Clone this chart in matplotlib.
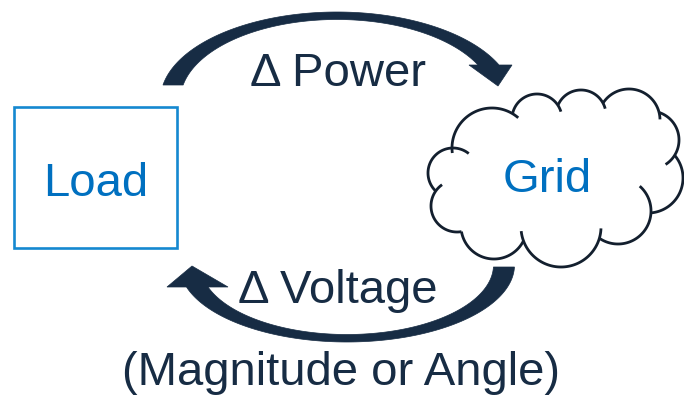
import numpy as np
import matplotlib.pyplot as plt
from matplotlib.patches import Polygon, Rectangle

# canvas is in pixel units (684 x 408), y pointing down
W, H = 684, 408

navy = '#172C44'
blue = '#0070C0'
box_edge = '#1588D0'

# labels: text, x, baseline y, colour
labels = ['\u0394 Power', 'Load', 'Grid', '\u0394 Voltage', '(Magnitude or Angle)']
label_x = [338, 96, 547, 338, 341]
label_y = [86, 196, 192, 303, 385]
label_col = [navy, blue, blue, navy, navy]

# Load box (left, top, right, bottom)
box = [14, 107, 177, 248]

# cloud bumps (centre x, centre y, radius), clockwise from top-left
bump_x = [492, 537, 581, 629, 650, 648, 618, 561, 494, 457, 453]
bump_y = [148, 119, 115, 120, 140, 178, 211, 227, 226, 206, 173]
bump_r = [40, 25, 25, 31, 29, 35, 33, 40, 33, 26, 25]
hook_start = [5, 0, 0, 0, 0, 0, 30, 10, 0, 0, 0]
hook_end = [7, 7, 6, 7, 13, 0, 0, 10, 0, 9, 18]
cloud_c = (555, 178)

# curved arrows: ellipse centre, outer (a, b), inner (a, b), tail y, head base y, head triangle
top_arrow = dict(c=(337, 100), outer=(176.6, 88), inner=(156.6, 80.5), tail=85, base=65,
                 head=[(512, 65), (498, 86), (469, 65)])
bot_arrow = dict(c=(347, 265), outer=(167.5, 77), inner=(146.5, 69.5), tail=267, base=287,
                 head=[(167, 287), (192, 266), (228, 287)])


def arrow_poly(p, up=True):
    cx, cy = p['c']
    ao, bo = p['outer']
    ai, bi = p['inner']
    s = -1 if up else 1
    if up:
        to = np.linspace(np.pi - np.arcsin(abs(cy - p['tail']) / bo), np.arcsin(abs(cy - p['base']) / bo), 200)
        ti = np.linspace(np.arcsin(abs(cy - p['base']) / bi), np.pi - np.arcsin(abs(cy - p['tail']) / bi), 200)
    else:
        to = np.linspace(np.arcsin(abs(p['tail'] - cy) / bo), np.pi - np.arcsin(abs(p['base'] - cy) / bo), 200)
        ti = np.linspace(np.pi - np.arcsin(abs(p['base'] - cy) / bi), np.arcsin(abs(p['tail'] - cy) / bi), 200)
    outer = np.column_stack([cx + ao * np.cos(to), cy + s * bo * np.sin(to)])
    inner = np.column_stack([cx + ai * np.cos(ti), cy + s * bi * np.sin(ti)])
    return np.vstack([outer, np.array(p['head']), inner])


def outer_cross(c1, r1, c2, r2):
    c1, c2 = np.array(c1, float), np.array(c2, float)
    d = np.linalg.norm(c2 - c1)
    a = (r1**2 - r2**2 + d**2) / (2 * d)
    h = np.sqrt(max(r1**2 - a**2, 0))
    u = (c2 - c1) / d
    p = c1 + a * u
    perp = np.array([-u[1], u[0]])
    pts = [p + h * perp, p - h * perp]
    dist = [np.linalg.norm(q - np.array(cloud_c)) for q in pts]
    return pts[int(np.argmax(dist))]


fig = plt.figure(figsize=(W / 100, H / 100), dpi=100)
ax = fig.add_axes([0, 0, 1, 1])
ax.set_xlim(0, W)
ax.set_ylim(H, 0)
ax.axis('off')

# arrows
ax.add_patch(Polygon(arrow_poly(top_arrow, up=True), closed=True, fc=navy, ec=navy, lw=0.5))
ax.add_patch(Polygon(arrow_poly(bot_arrow, up=False), closed=True, fc=navy, ec=navy, lw=0.5))

# load box
ax.add_patch(Rectangle((box[0], box[1]), box[2] - box[0], box[3] - box[1],
                       fill=False, ec=box_edge, lw=1.9))

# cloud outline
n = len(bump_x)
for i in range(n):
    c = (bump_x[i], bump_y[i])
    r = bump_r[i]
    j, k = (i - 1) % n, (i + 1) % n
    p0 = outer_cross(c, r, (bump_x[j], bump_y[j]), bump_r[j])
    p1 = outer_cross(c, r, (bump_x[k], bump_y[k]), bump_r[k])
    a0 = np.arctan2(p0[1] - c[1], p0[0] - c[0])
    a1 = np.arctan2(p1[1] - c[1], p1[0] - c[0])
    span = (a1 - a0) % (2 * np.pi)
    t = np.linspace(a0 - hook_start[i] / r, a0 + span + hook_end[i] / r, 120)
    ax.plot(c[0] + r * np.cos(t), c[1] + r * np.sin(t), color='#131F2E', lw=2.0,
            solid_capstyle='butt')

# text
for txt, x, y, col in zip(labels, label_x, label_y, label_col):
    ax.text(x, y, txt, color=col, fontsize=34, family='Liberation Sans',
            ha='center', va='baseline')

fig.savefig('out.png', dpi=100)
